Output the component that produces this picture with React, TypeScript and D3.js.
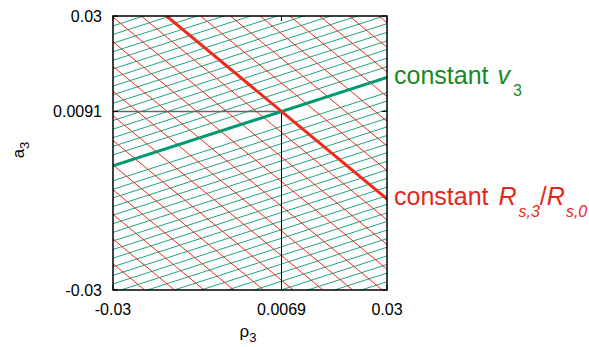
import React from 'react';
import * as d3 from 'd3';

// axis ticks
const xTicks = [-0.03, 0.0069, 0.03];
const yTicks = [-0.03, 0.0091, 0.03];
const xTickLabels = ['-0.03', '0.0069', '0.03'];
const yTickLabels = ['-0.03', '0.0091', '0.03'];

// operating point
const rhoStar = 0.0069;
const aStar = 0.0091;

// constant v3 contours: a3 value where each line meets rho3 = -0.03
const greenStarts = [
  0.02971, 0.02783, 0.02595, 0.02406, 0.02218, 0.0203, 0.01841, 0.01653, 0.01465,
  0.01276, 0.01088, 0.009, 0.00711, 0.00523, 0.00335, 0.00146, -0.00042,
  -0.00607, -0.00795, -0.00983, -0.01172, -0.0136, -0.01548, -0.01737,
  -0.01925, -0.02113, -0.02302, -0.0249, -0.02678, -0.02866, -0.03055, -0.03243,
  -0.03431, -0.0362, -0.03808, -0.03996, -0.04185, -0.04373, -0.04561, -0.0475, -0.04938,
];
const greenSlope = 0.322;

// constant Rs3/Rs0 contours: rho3 value where each line meets a3 = -0.03
const redStarts = [
  -0.02956, -0.02306, -0.01656, -0.01005, -0.00355, 0.00296, 0.00946, 0.01597,
  0.02247, 0.02898, 0.03548, 0.04198, 0.04849, 0.0615, 0.068, 0.07451,
  0.08101, 0.08751, 0.09402, 0.10052,
];
const redSlope = -0.83;

const W = 589;
const H = 347;
const margin = { left: 113, right: 202, top: 16, bottom: 57 };

const GREEN_LINE = '#1fa47e';
const GREEN_BOLD = '#009a72';
const GREEN_TEXT = '#168a22';
const RED_LINE = '#ee2b1d';
const RED_TEXT = '#e6261b';
const FONT = '"Liberation Sans", Arial, Helvetica, sans-serif';

const App: React.FC = () => {
  const x = d3.scaleLinear().domain([-0.03, 0.03]).range([margin.left, W - margin.right]);
  const y = d3.scaleLinear().domain([-0.03, 0.03]).range([H - margin.bottom, margin.top]);
  const line = d3.line<[number, number]>().x(d => x(d[0])).y(d => y(d[1]));

  const greenPath = (a0: number) =>
    line([[-0.03, a0], [0.03, a0 + greenSlope * 0.06]]) as string;
  const redPath = (r0: number) =>
    line([[r0, -0.03], [r0 + 0.06 / redSlope, 0.03]]) as string;

  const boldGreen = aStar - greenSlope * (rhoStar + 0.03);
  const boldRed = rhoStar + (-0.03 - aStar) / redSlope;

  const x0 = x(-0.03), x1 = x(0.03), y0 = y(-0.03), y1 = y(0.03);
  const tick = 5;

  return (
    <svg width={W} height={H} style={{ position: 'absolute', left: 0, top: 0 }} fontFamily={FONT}>
      <defs>
        <clipPath id="plot">
          <rect x={x0} y={y1} width={x1 - x0} height={y0 - y1} />
        </clipPath>
      </defs>
      <rect width={W} height={H} fill="white" />
      <g clipPath="url(#plot)" fill="none">
        {greenStarts.map((a, i) => (
          <path key={'g' + i} d={greenPath(a)} stroke={GREEN_LINE} strokeWidth={1} />
        ))}
        {redStarts.map((r, i) => (
          <path key={'r' + i} d={redPath(r)} stroke={RED_LINE} strokeWidth={1} />
        ))}
        <line x1={x(-0.03)} x2={x(rhoStar)} y1={y(aStar)} y2={y(aStar)} stroke="#666" strokeWidth={1.6} />
        <line x1={x(rhoStar)} x2={x(rhoStar)} y1={y(-0.03)} y2={y(aStar)} stroke="#000" strokeWidth={1} />
        <path d={greenPath(boldGreen)} stroke={GREEN_BOLD} strokeWidth={3} />
        <path d={redPath(boldRed)} stroke={RED_LINE} strokeWidth={3} />
      </g>
      {/* ticks, mirrored inward */}
      {xTicks.map((t, i) => (
        <g key={'xt' + i} stroke="#000" strokeWidth={1}>
          <line x1={x(t)} x2={x(t)} y1={y0} y2={y0 - tick} />
          <line x1={x(t)} x2={x(t)} y1={y1} y2={y1 + tick} />
        </g>
      ))}
      {yTicks.map((t, i) => (
        <g key={'yt' + i} stroke="#000" strokeWidth={1}>
          <line x1={x0} x2={x0 + tick} y1={y(t)} y2={y(t)} />
          <line x1={x1} x2={x1 - tick} y1={y(t)} y2={y(t)} />
        </g>
      ))}
      <rect x={x0} y={y1} width={x1 - x0} height={y0 - y1} fill="none" stroke="#000" strokeWidth={1.5} />
      {/* tick labels */}
      {xTicks.map((t, i) => (
        <text key={'xl' + i} x={x(t)} y={y0 + 25} fontSize={16} textAnchor="middle" fill="#000">
          {xTickLabels[i]}
        </text>
      ))}
      {yTicks.map((t, i) => (
        <text key={'yl' + i} x={x0 - 11} y={y(t)} dy="0.35em" fontSize={16} textAnchor="end" fill="#000">
          {yTickLabels[i]}
        </text>
      ))}
      {/* axis titles */}
      <text x={248} y={337} fontSize={17} textAnchor="middle" fill="#000">
        ρ<tspan fontSize={13} dy={5}>3</tspan>
      </text>
      <text transform="translate(24,150) rotate(-90)" fontSize={17} textAnchor="middle" fill="#000">
        a<tspan fontSize={13} dy={5}>3</tspan>
      </text>
      {/* contour labels */}
      <text x={394} y={84} fontSize={25} fill={GREEN_TEXT}>
        constant <tspan fontStyle="italic" dx={2}>v</tspan>
        <tspan fontSize={16} dx={3} dy={12}>3</tspan>
      </text>
      <text x={394} y={205} fontSize={25} fill={RED_TEXT}>
        constant <tspan fontStyle="italic" dx={3}>R</tspan>
        <tspan fontSize={16} fontStyle="italic" dx={2} dy={12}>s,3</tspan>
        <tspan dy={-12}>/</tspan>
        <tspan fontStyle="italic">R</tspan>
        <tspan fontSize={16} fontStyle="italic" dx={1} dy={12}>s,0</tspan>
      </text>
    </svg>
  );
};

export default App;
